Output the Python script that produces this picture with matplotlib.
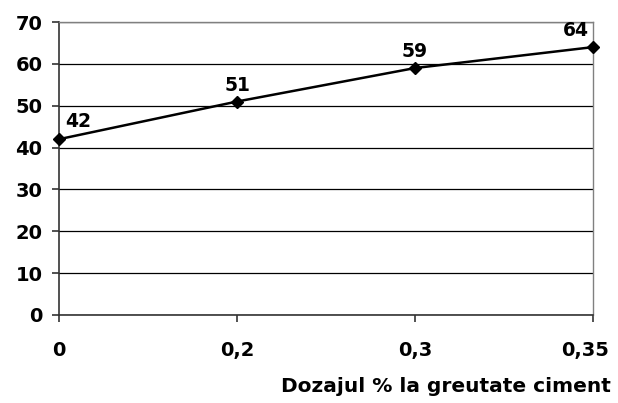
import matplotlib
matplotlib.use('Agg')
import matplotlib.pyplot as plt
from matplotlib.transforms import ScaledTranslation

plt.rcParams['font.family'] = ['DejaVu Sans']

# date
dozaj = ['0', '0,2', '0,3', '0,35']
valori = [42, 51, 59, 64]
y_ticks = [0, 10, 20, 30, 40, 50, 60, 70]
# pozitia etichetelor (offset in puncte)
offsets = [(14, 6), (0, 5), (0, 5), (-12, 5)]

fig = plt.figure(figsize=(6.18, 4.03), dpi=100)
ax = fig.add_axes([0.0955, 0.2184, 0.864, 0.727])

x = list(range(len(dozaj)))
ax.plot(x, valori, color='black', lw=1.8, marker='D', ms=6.5,
        markerfacecolor='black', markeredgecolor='black', zorder=5, clip_on=False)

for xi, v, off in zip(x, valori, offsets):
    ax.annotate(str(v), (xi, v), xytext=off, textcoords='offset points',
                ha='center', va='bottom', fontsize=13.5, fontweight='bold')

ax.set_xlim(0, len(dozaj) - 1)
ax.set_ylim(0, 70)
ax.set_xticks(x)
ax.set_xticklabels(dozaj)
ax.set_yticks(y_ticks)
ax.grid(axis='y', color='black', lw=0.9)
ax.set_axisbelow(True)

for side in ['top', 'right']:
    ax.spines[side].set_color('#808080')
    ax.spines[side].set_linewidth(1)
for side in ['left', 'bottom']:
    ax.spines[side].set_color('#333333')
    ax.spines[side].set_linewidth(1.2)

ax.tick_params(axis='both', labelsize=14, width=1.2, color='#333333', length=5)
ax.tick_params(axis='x', pad=14)
ax.tick_params(axis='y', pad=7)
for lbl in ax.get_xticklabels() + ax.get_yticklabels():
    lbl.set_fontweight('bold')
# ultima eticheta impinsa spre stanga ca sa incapa
last = ax.get_xticklabels()[-1]
last.set_transform(last.get_transform() + ScaledTranslation(-8 / 100, 0, fig.dpi_scale_trans))

fig.text(0.988, 0.018, 'Dozajul % la greutate ciment', ha='right', va='bottom',
         fontsize=14.5, fontweight='bold')

fig.savefig('out.png', dpi=100)
